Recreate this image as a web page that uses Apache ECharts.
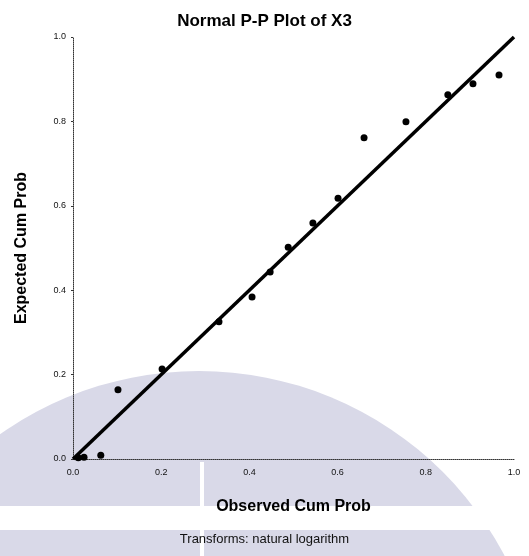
<!DOCTYPE html>
<html>
<head>
<meta charset="utf-8">
<script src="https://cdn.jsdelivr.net/npm/echarts@6/dist/echarts.min.js"></script>
<style>
html,body{margin:0;padding:0;background:#fff;}
#chart{width:529px;height:556px;}
</style>
</head>
<body>
<div id="chart"></div>
<script>
// Data
var observedCumProb = [0.012, 0.025, 0.063, 0.102, 0.202, 0.331, 0.406, 0.447, 0.488, 0.544, 0.601, 0.660, 0.755, 0.850, 0.907, 0.966];
var expectedCumProb = [0.003, 0.004, 0.009, 0.164, 0.213, 0.325, 0.384, 0.443, 0.502, 0.559, 0.618, 0.761, 0.799, 0.863, 0.889, 0.910];
var refLineX = [0, 1];
var refLineY = [0, 1];
var tickValues = [0, 0.2, 0.4, 0.6, 0.8, 1.0];
var titleText = 'Normal P-P Plot of X3';
var xAxisTitle = 'Observed Cum Prob';
var yAxisTitle = 'Expected Cum Prob';
var footnote = 'Transforms: natural logarithm';

var points = observedCumProb.map(function (x, i) { return [x, expectedCumProb[i]]; });
var refLine = refLineX.map(function (x, i) { return [x, refLineY[i]]; });

var chart = echarts.init(document.getElementById('chart'), null, {renderer: 'canvas'});
var font = 'Liberation Sans, Arial, sans-serif';
var wm = '#d9d9e8';

chart.setOption({
  backgroundColor: '#ffffff',
  animation: false,
  title: [
    {
      text: titleText, left: 'center', top: 13,
      padding: [0, 20, 0, 5],
      textStyle: {fontSize: 17, fontWeight: 'bold', color: '#000', fontFamily: font}
    },
    {
      text: footnote, left: 'center', top: 533,
      padding: [0, 20, 0, 5],
      textStyle: {fontSize: 13, fontWeight: 'normal', color: '#111', fontFamily: font}
    }
  ],
  graphic: [
    {type: 'circle', z: -10, silent: true, shape: {cx: 199, cy: 716, r: 345}, style: {fill: wm}},
    {type: 'rect', z: -9, silent: true, shape: {x: 0, y: 506, width: 529, height: 24}, style: {fill: '#ffffff'}},
    {type: 'rect', z: -9, silent: true, shape: {x: 200, y: 462, width: 4, height: 94}, style: {fill: '#ffffff'}}
  ],
  grid: {left: 73, right: 15, top: 37, bottom: 97, containLabel: false},
  xAxis: {
    type: 'value', min: 0, max: 1, interval: 0.2,
    name: xAxisTitle, nameLocation: 'middle', nameGap: 40,
    nameTextStyle: {fontSize: 16, fontWeight: 'bold', color: '#000', fontFamily: font},
    axisLine: {show: true, onZero: false, lineStyle: {color: '#333', width: 1, type: 'dotted'}},
    axisTick: {show: false},
    splitLine: {show: false},
    axisLabel: {
      fontSize: 9, color: '#111', fontFamily: font, margin: 9,
      formatter: function (v) { return v.toFixed(1); }
    }
  },
  yAxis: {
    type: 'value', min: 0, max: 1, interval: 0.2,
    name: yAxisTitle, nameLocation: 'middle', nameGap: 43,
    nameTextStyle: {fontSize: 16, fontWeight: 'bold', color: '#000', fontFamily: font},
    axisLine: {show: true, onZero: false, lineStyle: {color: '#333', width: 1, type: 'dotted'}},
    axisTick: {show: true, length: 2, lineStyle: {color: '#333'}},
    splitLine: {show: false},
    axisLabel: {
      fontSize: 9, color: '#111', fontFamily: font, margin: 7,
      formatter: function (v) { return v.toFixed(1); }
    }
  },
  series: [
    {
      type: 'line', data: refLine, showSymbol: false, symbol: 'none',
      lineStyle: {color: '#000', width: 3.5}, z: 2, silent: true
    },
    {
      type: 'scatter', data: points, symbol: 'circle', symbolSize: 7,
      itemStyle: {color: '#000', opacity: 1}, z: 3
    }
  ]
});
</script>
</body>
</html>
